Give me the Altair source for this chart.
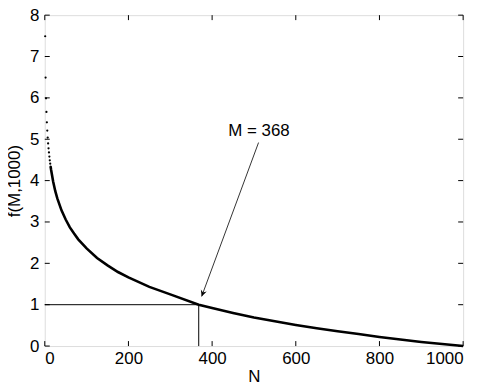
import altair as alt
import pandas as pd

# sparse head (individual dots)
head_m = [1, 2, 3, 4, 5, 6, 7, 8, 9, 10, 11, 12, 13, 14]
head_f = [7.49, 6.49, 5.99, 5.66, 5.41, 5.21, 5.04, 4.90, 4.78, 4.68, 4.58, 4.49, 4.41, 4.34]

# dense part of curve
curve_m = [14, 15, 20, 25, 30, 40, 50, 60, 70, 80, 100, 125, 150, 175, 200, 250, 300,
           368, 400, 450, 500, 550, 600, 650, 700, 750, 800, 850, 900, 950, 1000]
curve_f = [4.34, 4.27, 3.98, 3.75, 3.57, 3.28, 3.06, 2.87, 2.72, 2.58, 2.36, 2.13, 1.95,
           1.79, 1.66, 1.43, 1.25, 1.00, 0.92, 0.80, 0.69, 0.60, 0.51, 0.43, 0.36, 0.29,
           0.22, 0.16, 0.10, 0.05, 0.00]

x_ticks = [0, 200, 400, 600, 800, 1000]
y_ticks = [0, 1, 2, 3, 4, 5, 6, 7, 8]

mark_M = 368
mark_f = 1.0
label_text = "M = 368"
label_pos = (512, 5.2)
arrow_start = (511, 4.92)
arrow_tip = (375, 1.2)

W, H = 421, 333
FONT = "Liberation Sans"
FS = 17

xs = alt.Scale(domain=[0, 1000], nice=False, zero=False)
ys = alt.Scale(domain=[0, 8], nice=False, zero=False)

xax = alt.Axis(values=x_ticks, format="d", tickSize=0, domain=False, grid=False,
               labelFontSize=FS, labelFont=FONT, labelColor="black", labelPadding=5,
               title="N", titleFont=FONT, titleFontSize=FS, titleFontWeight="normal",
               titleColor="black", titlePadding=2)
yax = alt.Axis(values=y_ticks, format="d", tickSize=0, domain=False, grid=False,
               labelFontSize=FS, labelFont=FONT, labelColor="black", labelPadding=6,
               title="f(M,1000)", titleFont=FONT, titleFontSize=FS, titleFontWeight="normal",
               titleColor="black", titlePadding=6)

head_df = pd.DataFrame({"M": head_m, "f": head_f})
curve_df = pd.DataFrame({"M": curve_m, "f": curve_f})

base_line = alt.Chart(curve_df).mark_line(color="black", strokeWidth=2.6).encode(
    x=alt.X("M:Q", scale=xs, axis=xax),
    y=alt.Y("f:Q", scale=ys, axis=yax),
)
head = alt.Chart(head_df).mark_circle(color="black", size=5, opacity=1).encode(
    x=alt.X("M:Q", scale=xs), y=alt.Y("f:Q", scale=ys)
)

ref_df = pd.DataFrame({"x0": [0, mark_M], "x1": [mark_M, mark_M],
                       "y0": [mark_f, 0], "y1": [mark_f, mark_f]})
refs = alt.Chart(ref_df).mark_rule(color="black", strokeWidth=1).encode(
    x=alt.X("x0:Q", scale=xs), x2="x1:Q",
    y=alt.Y("y0:Q", scale=ys), y2="y1:Q",
)

arrow_df = pd.DataFrame({"x0": [arrow_start[0]], "y0": [arrow_start[1]],
                         "x1": [arrow_tip[0]], "y1": [arrow_tip[1]]})
arrow = alt.Chart(arrow_df).mark_rule(color="black", strokeWidth=0.8).encode(
    x=alt.X("x0:Q", scale=xs), x2="x1:Q",
    y=alt.Y("y0:Q", scale=ys), y2="y1:Q",
)
head_df2 = pd.DataFrame({"x": [arrow_tip[0]], "y": [arrow_tip[1]]})
arrowhead = alt.Chart(head_df2).mark_point(shape="M-0.6,-1.2 L0,0 L0.6,-1.2 L0,-0.8 Z",
                                           filled=True, color="black", size=110,
                                           angle=20, opacity=1).encode(
    x=alt.X("x:Q", scale=xs), y=alt.Y("y:Q", scale=ys)
)

lab_df = pd.DataFrame({"x": [label_pos[0]], "y": [label_pos[1]], "t": [label_text]})
label = alt.Chart(lab_df).mark_text(font=FONT, fontSize=FS, color="black",
                                    align="center", baseline="middle").encode(
    x=alt.X("x:Q", scale=xs), y=alt.Y("y:Q", scale=ys), text="t:N"
)

# inward ticks on all four sides
xt_df = pd.DataFrame({"v": x_ticks})
yt_df = pd.DataFrame({"v": y_ticks})
tb = alt.Chart(xt_df).mark_rule(color="black", strokeWidth=1).encode(
    x=alt.X("v:Q", scale=xs), y=alt.value(H), y2=alt.value(H - 5))
tt = alt.Chart(xt_df).mark_rule(color="black", strokeWidth=1).encode(
    x=alt.X("v:Q", scale=xs), y=alt.value(0), y2=alt.value(5))
tl = alt.Chart(yt_df).mark_rule(color="black", strokeWidth=1).encode(
    y=alt.Y("v:Q", scale=ys), x=alt.value(0), x2=alt.value(5))
tr = alt.Chart(yt_df).mark_rule(color="black", strokeWidth=1).encode(
    y=alt.Y("v:Q", scale=ys), x=alt.value(W), x2=alt.value(W - 5))

chart = alt.layer(base_line, head, refs, arrow, arrowhead, label, tb, tt, tl, tr).properties(
    width=W, height=H,
    autosize=alt.AutoSizeParams(type="none"),
    padding={"left": 37, "top": 6, "right": 20, "bottom": 40},
).configure_view(stroke="black", strokeWidth=1).configure(background="white")

chart.save("out.html", embed_options={"renderer": "svg", "actions": False})
